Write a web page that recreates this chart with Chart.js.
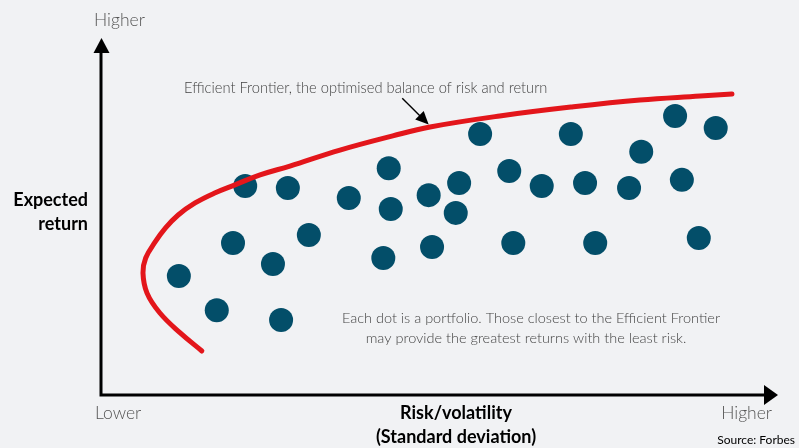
<!DOCTYPE html>
<html>
<head>
    <title>Efficient Frontier</title>
    <script src="https://cdn.jsdelivr.net/npm/chart.js"></script>
<style>
  body{
    margin: 0;
    background: #f1f2f4;
  }
  #wrap{
    width: 799px;
    height: 448px;
  }
</style>
</head>
<body>
  <div id="wrap">
    <canvas id="chart" width="799" height="448"></canvas>
  </div>

    <script>
        // Portfolios: risk (x) and expected return (y), both on a 0-100 scale
        const portfolioRisk = [11.5, 17.1, 19.5, 21.3, 25.4, 26.6, 27.6, 30.7, 36.6, 41.7,
                               42.5, 42.8, 48.4, 48.9, 52.4, 52.9, 56.0, 60.3, 60.9, 65.1,
                               69.4, 71.5, 73.0, 78.0, 79.8, 84.8, 85.8, 88.3, 90.8];
        const portfolioReturn = [33.5, 23.9, 42.8, 58.9, 36.9, 21.1, 58.3, 45.1, 55.5, 38.6,
                                 63.9, 52.4, 56.3, 41.7, 51.3, 59.7, 73.5, 63.1, 42.8, 58.9,
                                 73.5, 59.7, 42.8, 58.3, 68.5, 78.6, 60.6, 44.2, 75.2];

        // Efficient frontier curve
        const frontierRisk = [14.9, 11.7, 8.7, 6.8, 6.2, 6.6, 8.0, 9.5, 11.4, 13.9, 16.8,
                              19.8, 23.5, 27.9, 35.3, 43.1, 48.6, 58.9, 69.4, 79.6, 88.5, 93.2];
        const frontierReturn = [12.4, 17.5, 23.1, 28.7, 34.4, 38.6, 43.1, 47.0, 50.7, 54.1, 56.9,
                                59.2, 62.0, 64.5, 69.0, 73.0, 75.5, 78.6, 81.1, 83.1, 84.2, 84.8];

        const textFont = 'Lato, "Open Sans", sans-serif';

        const toPoints = (xs, ys) => xs.map((x, i) => ({ x: x, y: ys[i] }));

        function arrowHead(ctx, x, y, angle, len, half) {
            ctx.save();
            ctx.translate(x, y);
            ctx.rotate(angle);
            ctx.beginPath();
            ctx.moveTo(0, 0);
            ctx.lineTo(-len, -half);
            ctx.lineTo(-len, half);
            ctx.closePath();
            ctx.fill();
            ctx.restore();
        }

        // draws the axes with arrows and all the labels
        const decorations = {
            id: 'decorations',
            beforeDatasetsDraw(chart) {
                const ctx = chart.ctx;
                const a = chart.chartArea;
                ctx.save();
                ctx.strokeStyle = '#000';
                ctx.fillStyle = '#000';
                ctx.lineWidth = 3;
                ctx.beginPath();
                ctx.moveTo(a.left, a.top + 12);
                ctx.lineTo(a.left, a.bottom);
                ctx.lineTo(a.right - 12, a.bottom);
                ctx.stroke();
                arrowHead(ctx, a.left + 0.5, a.top - 2, -Math.PI / 2, 15, 8);
                arrowHead(ctx, a.right, a.bottom, 0, 14, 10);
                ctx.restore();
            },
            afterDraw(chart) {
                const ctx = chart.ctx;
                const xs = chart.scales.x;
                const ys = chart.scales.y;
                ctx.save();
                ctx.textBaseline = 'middle';

                ctx.fillStyle = '#555';
                ctx.font = '300 17.5px ' + textFont;
                ctx.textAlign = 'left';
                ctx.fillText('Higher', 94, 20);
                ctx.fillText('Lower', 95, 413);
                ctx.textAlign = 'right';
                ctx.fillText('Higher', 772, 413);

                ctx.fillStyle = '#000';
                ctx.font = 'bold 18px ' + textFont;
                ctx.textAlign = 'right';
                ctx.fillText('Expected', 88, 200);
                ctx.fillText('return', 88, 224);
                ctx.textAlign = 'center';
                ctx.fillText('Risk/volatility', 456, 413);
                ctx.fillText('(Standard deviation)', 456, 437);

                ctx.font = '12px ' + textFont;
                ctx.textAlign = 'right';
                ctx.fillText('Source: Forbes', 795, 440);

                ctx.fillStyle = '#444';
                ctx.font = '300 14.7px ' + textFont;
                ctx.textAlign = 'left';
                ctx.fillText('Efficient Frontier, the optimised balance of risk and return', 184, 88);
                ctx.font = '300 14.5px ' + textFont;
                ctx.textAlign = 'center';
                ctx.fillText('Each dot is a portfolio. Those closest to the Efficient Frontier', 531, 318);
                ctx.fillText('may provide the greatest returns with the least risk.', 526, 338);

                // pointer from the label to the frontier
                const x0 = xs.getPixelForValue(44.5), y0 = ys.getPixelForValue(83.6);
                const x1 = xs.getPixelForValue(48.4), y1 = ys.getPixelForValue(76.2);
                const ang = Math.atan2(y1 - y0, x1 - x0);
                ctx.strokeStyle = '#000';
                ctx.fillStyle = '#000';
                ctx.lineWidth = 1.4;
                ctx.beginPath();
                ctx.moveTo(x0, y0);
                ctx.lineTo(x1 - 10 * Math.cos(ang), y1 - 10 * Math.sin(ang));
                ctx.stroke();
                arrowHead(ctx, x1, y1, ang, 13, 6);
                ctx.restore();
            }
        };

        new Chart(document.getElementById('chart'), {
            type: 'scatter',
            data: {
                datasets: [{
                    label: 'Efficient Frontier',
                    data: toPoints(frontierRisk, frontierReturn),
                    showLine: true,
                    borderColor: '#e3161b',
                    borderWidth: 5,
                    borderCapStyle: 'round',
                    tension: 0.4,
                    pointRadius: 0,
                    fill: false
                }, {
                    label: 'Portfolios',
                    data: toPoints(portfolioRisk, portfolioReturn),
                    backgroundColor: '#034e69',
                    borderWidth: 0,
                    pointRadius: 12,
                    pointHoverRadius: 12
                }]
            },
            options: {
                responsive: false,
                animation: false,
                layout: { padding: { left: 101, right: 21, top: 40, bottom: 53 } },
                plugins: {
                    legend: { display: false },
                    tooltip: { enabled: false }
                },
                scales: {
                    x: { type: 'linear', min: 0, max: 100, display: false },
                    y: { type: 'linear', min: 0, max: 100, display: false }
                }
            },
            plugins: [decorations]
        });
    </script>
</body>
</html>
